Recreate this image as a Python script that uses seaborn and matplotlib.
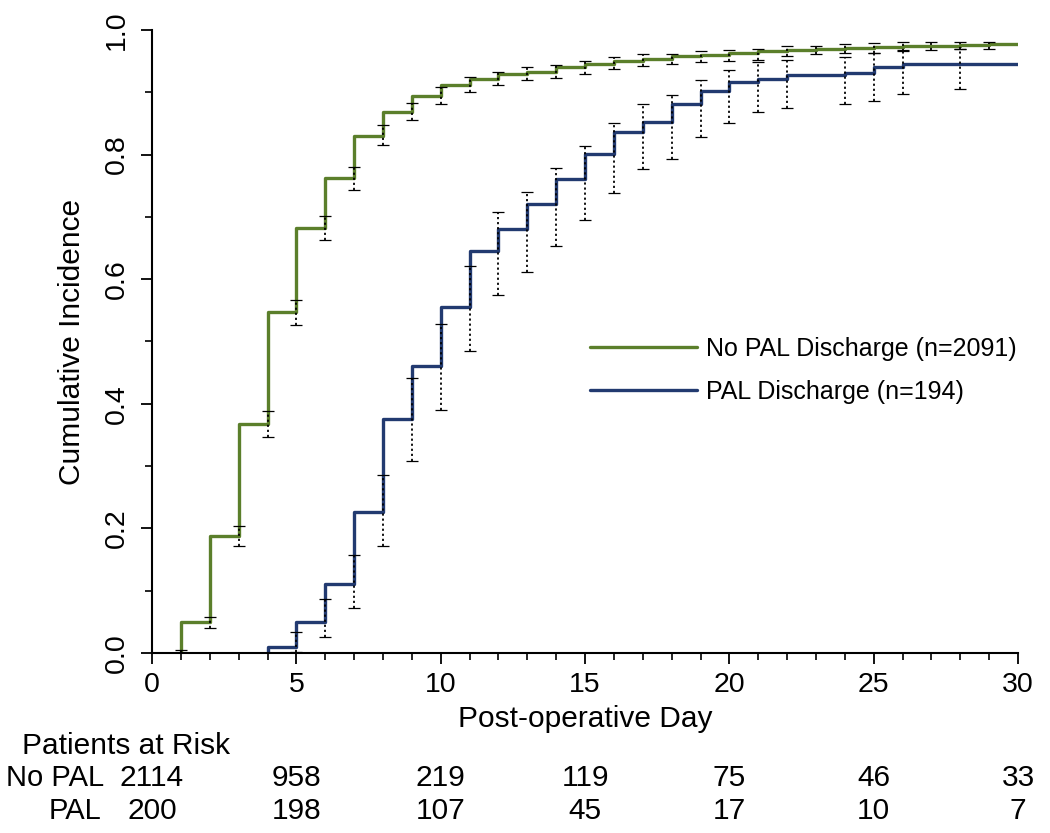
import matplotlib
matplotlib.use('Agg')
import matplotlib.pyplot as plt
import matplotlib.transforms as mtransforms
from matplotlib.lines import Line2D
from matplotlib.ticker import MultipleLocator
import pandas as pd
import seaborn as sns

# --- data ---
days = list(range(1, 31))
no_pal_cuminc = [0.049, 0.187, 0.367, 0.547, 0.682, 0.762, 0.830, 0.868, 0.894, 0.912,
                 0.922, 0.929, 0.933, 0.940, 0.946, 0.951, 0.954, 0.958, 0.960, 0.963,
                 0.966, 0.968, 0.970, 0.971, 0.973, 0.974, 0.975, 0.976, 0.977, 0.977]
pal_days = list(range(4, 31))
pal_cuminc = [0.010, 0.049, 0.110, 0.226, 0.376, 0.461, 0.555, 0.646, 0.681, 0.721,
              0.761, 0.801, 0.836, 0.852, 0.882, 0.902, 0.917, 0.922, 0.927, 0.927,
              0.931, 0.941, 0.946, 0.946, 0.946, 0.946, 0.946]

no_pal_ci_days = list(range(1, 30))
no_pal_ci_lo = [0.000, 0.040, 0.171, 0.347, 0.527, 0.663, 0.743, 0.815, 0.856, 0.882,
                0.900, 0.911, 0.919, 0.923, 0.930, 0.937, 0.942, 0.945, 0.949, 0.951,
                0.952, 0.958, 0.961, 0.963, 0.963, 0.966, 0.968, 0.969, 0.969]
no_pal_ci_hi = [0.004, 0.058, 0.204, 0.389, 0.567, 0.702, 0.780, 0.848, 0.883, 0.909,
                0.925, 0.933, 0.941, 0.944, 0.951, 0.957, 0.961, 0.962, 0.966, 0.968,
                0.969, 0.975, 0.975, 0.977, 0.979, 0.980, 0.980, 0.981, 0.981]

pal_ci_days = [5, 6, 7, 8, 9, 10, 11, 12, 13, 14, 15, 16, 17, 18, 19, 20, 21, 22, 24, 25, 26, 28]
pal_ci_lo = [0.002, 0.026, 0.073, 0.171, 0.308, 0.390, 0.484, 0.575, 0.611, 0.653, 0.695,
             0.738, 0.777, 0.793, 0.828, 0.850, 0.868, 0.874, 0.881, 0.886, 0.898, 0.905]
pal_ci_hi = [0.033, 0.087, 0.158, 0.285, 0.442, 0.528, 0.621, 0.708, 0.740, 0.778, 0.814,
             0.850, 0.881, 0.895, 0.920, 0.935, 0.949, 0.952, 0.956, 0.963, 0.968, 0.969]

risk_days = [0, 5, 10, 15, 20, 25, 30]
risk_no_pal = [2114, 958, 219, 119, 75, 46, 33]
risk_pal = [200, 198, 107, 45, 17, 10, 7]

labels = ['No PAL Discharge (n=2091)', 'PAL Discharge (n=194)']
colors = ['#5B7F2B', '#223A70']

# --- long table for seaborn (each curve starts from 0 at its first event day) ---
df = pd.concat([
    pd.DataFrame({'day': [days[0]] + days, 'ci': [0.0] + no_pal_cuminc, 'group': labels[0]}),
    pd.DataFrame({'day': [pal_days[0]] + pal_days, 'ci': [0.0] + pal_cuminc, 'group': labels[1]}),
])

sns.set_style('white')
plt.rcParams['font.family'] = ['Liberation Sans', 'DejaVu Sans']
for k in ['text.color', 'axes.labelcolor', 'xtick.color', 'ytick.color']:
    plt.rcParams[k] = 'black'

fig = plt.figure(figsize=(10.5, 8.33), dpi=100)
ax = fig.add_axes([0.1448, 0.2161, 0.8248, 0.7479])

sns.lineplot(data=df, x='day', y='ci', hue='group', palette=colors, estimator=None,
             errorbar=None, drawstyle='steps-post', linewidth=2.4, legend=False, ax=ax)

# dotted confidence bars with small caps
for cd, lo, hi in [(no_pal_ci_days, no_pal_ci_lo, no_pal_ci_hi), (pal_ci_days, pal_ci_lo, pal_ci_hi)]:
    ax.vlines(cd, lo, hi, colors='black', linestyles=(0, (1.2, 1.6)), linewidth=1.3, zorder=4)
    ax.plot(cd, lo, linestyle='none', marker='_', markersize=8, markeredgewidth=0.9, color='black', zorder=4)
    ax.plot(cd, hi, linestyle='none', marker='_', markersize=8, markeredgewidth=0.9, color='black', zorder=4)

ax.set_xlim(0, 30)
ax.set_ylim(0, 1.0)
ax.xaxis.set_major_locator(MultipleLocator(5))
ax.xaxis.set_minor_locator(MultipleLocator(1))
ax.yaxis.set_major_locator(MultipleLocator(0.2))
ax.yaxis.set_minor_locator(MultipleLocator(0.1))
ax.set_yticks([0, 0.2, 0.4, 0.6, 0.8, 1.0])
ax.set_yticklabels(['0.0', '0.2', '0.4', '0.6', '0.8', '1.0'], rotation=90, va='center')
ax.tick_params(which='major', direction='out', length=8, width=1.3, labelsize=20.5, pad=6,
               bottom=True, left=True)
ax.tick_params(which='minor', direction='out', length=5, width=1.2, bottom=True, left=True)
ax.tick_params(axis='y', pad=8)
sns.despine(ax=ax)
for s in ['left', 'bottom']:
    ax.spines[s].set_linewidth(1.5)
    ax.spines[s].set_color('black')

ax.set_xlabel('Post-operative Day', fontsize=21.5, labelpad=5)
ax.set_ylabel('Cumulative Incidence', fontsize=21.5, labelpad=13)

handles = [Line2D([], [], color=c, linewidth=2.4) for c in colors]
ax.legend(handles, labels, loc='upper left', bbox_to_anchor=(0.491, 0.527), frameon=False,
          fontsize=18, handlelength=4.3, handletextpad=0.35, labelspacing=0.75, borderpad=0)

# --- patients at risk table ---
trans = mtransforms.blended_transform_factory(ax.transData, fig.transFigure)
fig.text(0.021, 0.105, 'Patients at Risk', fontsize=21.5, ha='left', va='center')
fig.text(0.099, 0.066, 'No PAL', fontsize=21, ha='right', va='center')
fig.text(0.097, 0.027, 'PAL', fontsize=21, ha='right', va='center')
for d, a, b in zip(risk_days, risk_no_pal, risk_pal):
    ax.text(d, 0.066, str(a), transform=trans, fontsize=21.5, ha='center', va='center')
    ax.text(d, 0.027, str(b), transform=trans, fontsize=21.5, ha='center', va='center')

fig.savefig('out.png', dpi=100)
